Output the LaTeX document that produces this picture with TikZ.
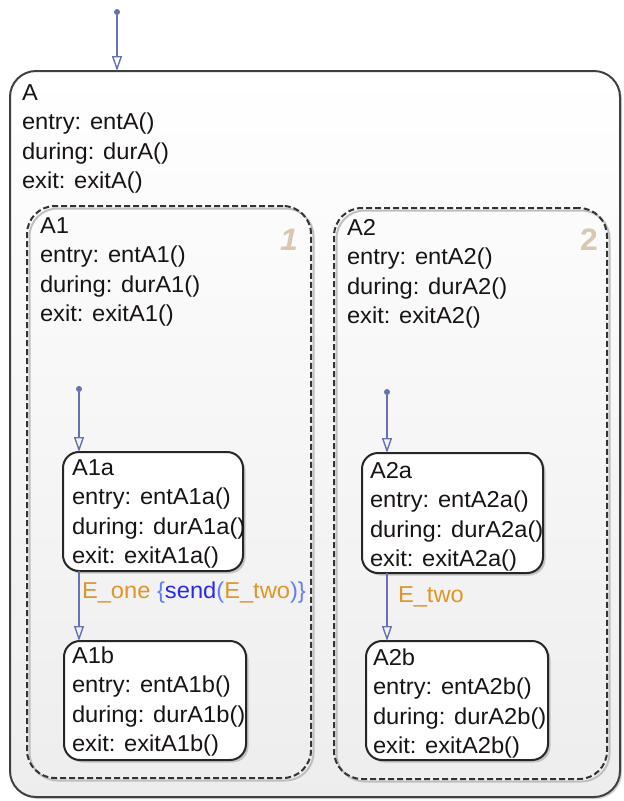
\documentclass[tikz,border=0pt]{standalone}
\usepackage{fontspec}
\setmainfont{Liberation Sans}[FakeStretch=1.03]
\usetikzlibrary{arrows.meta,shadows,calc}
\definecolor{trans}{RGB}{102,112,180}
\definecolor{lbl}{RGB}{222,150,40}
\definecolor{act}{RGB}{40,40,240}
\definecolor{brace}{RGB}{100,125,255}
\definecolor{numc}{RGB}{215,200,175}
\definecolor{txt}{RGB}{25,20,20}
\begin{document}
\begin{tikzpicture}[x=1pt,y=-1pt,
  every node/.style={inner sep=0pt, outer sep=0pt},
  boxbase/.style={anchor=north west, rectangle},
  outerstate/.style={boxbase, draw=black!75, line width=2pt, rounded corners=26pt,
    top color=white, bottom color=black!7,
    drop shadow={shadow xshift=2pt, shadow yshift=-2pt, opacity=0.35}},
  parstate/.style={boxbase, draw=black!80, line width=2pt, rounded corners=28pt,
    dash pattern=on 6pt off 3pt},
  parshadow/.style={draw=black!25, line width=2pt, rounded corners=28pt},
  leafstate/.style={boxbase, draw=black!85, line width=2pt, rounded corners=16pt, fill=white,
    drop shadow={shadow xshift=2.5pt, shadow yshift=-2.5pt, opacity=0.4}},
  stext/.style={anchor=north west, align=left, font=\fontsize{23}{29.5}\selectfont, text=txt},
  dot/.style={circle, fill=trans, minimum size=6pt},
  tr/.style={draw=trans, line width=1.6pt, -{Triangle[open, length=15pt, width=10pt, line width=1.4pt]}},
  tlabel/.style={anchor=base west, font=\fontsize{23}{29.5}\selectfont, text=lbl},
  decnum/.style={anchor=base east, font=\fontsize{31}{31}\selectfont\bfseries, text=numc}
]
\useasboundingbox (0,0) rectangle (624,801);

% outer state A
\node[outerstate, minimum width=610pt, minimum height=726pt] (A) at (10,71) {};
\node[stext] (Atxt) at (22,80) {\rule{0pt}{20pt}A\\entry: entA()\\during: durA()\\exit: exitA()};

% parallel states (soft shadow outline first)
\draw[parshadow] (29.5,208.5) rectangle (313.5,780.5);
\draw[parshadow] (336.5,210.5) rectangle (609.5,781.5);
\node[parstate, minimum width=284pt, minimum height=572pt] (A1) at (27,206) {};
\node[stext] (A1txt) at (40,213) {\rule{0pt}{20pt}A1\\entry: entA1()\\during: durA1()\\exit: exitA1()};
\node[decnum, font=\fontsize{31}{31}\selectfont\bfseries\itshape] (n1) at (298,250) {1};

\node[parstate, minimum width=273pt, minimum height=571pt] (A2) at (334,208) {};
\node[stext] (A2txt) at (347,215) {\rule{0pt}{20pt}A2\\entry: entA2()\\during: durA2()\\exit: exitA2()};
\node[decnum] (n2) at (598,250) {2};

% leaf states
\node[leafstate, minimum width=180pt, minimum height=119pt] (A1a) at (63,452) {};
\node[stext] (A1atxt) at (72,455) {\rule{0pt}{20pt}A1a\\entry: entA1a()\\during: durA1a()\\exit: exitA1a()};

\node[leafstate, minimum width=182pt, minimum height=119pt] (A1b) at (64,641) {};
\node[stext] (A1btxt) at (72,643) {\rule{0pt}{20pt}A1b\\entry: entA1b()\\during: durA1b()\\exit: exitA1b()};

\node[leafstate, minimum width=181pt, minimum height=120pt] (A2a) at (362,453) {};
\node[stext] (A2atxt) at (370,458) {\rule{0pt}{20pt}A2a\\entry: entA2a()\\during: durA2a()\\exit: exitA2a()};

\node[leafstate, minimum width=182pt, minimum height=119pt] (A2b) at (366,641) {};
\node[stext] (A2btxt) at (373,645) {\rule{0pt}{20pt}A2b\\entry: entA2b()\\during: durA2b()\\exit: exitA2b()};

% default transitions
\node[dot] (d0) at (117,12) {};
\node[dot] (d1) at (79,389) {};
\node[dot] (d2) at (387,392) {};
\draw[tr] (d0) -- (d0 |- A.north);
\draw[tr] (d1) -- (d1 |- A1a.north);
\draw[tr] (d2) -- (d2 |- A2a.north);

% transitions
\draw[tr] (d1 |- A1a.south) -- (d1 |- A1b.north);
\draw[tr] (d2 |- A2a.south) -- (d2 |- A2b.north);

\node[tlabel] (l1) at (82,598) {E\_one {\color{brace}\{}{\color{act}send}{\color{brace}(}E\_two{\color{brace})\}}};
\node[tlabel] (l2) at (398,602) {E\_two};
\end{tikzpicture}
\end{document}
